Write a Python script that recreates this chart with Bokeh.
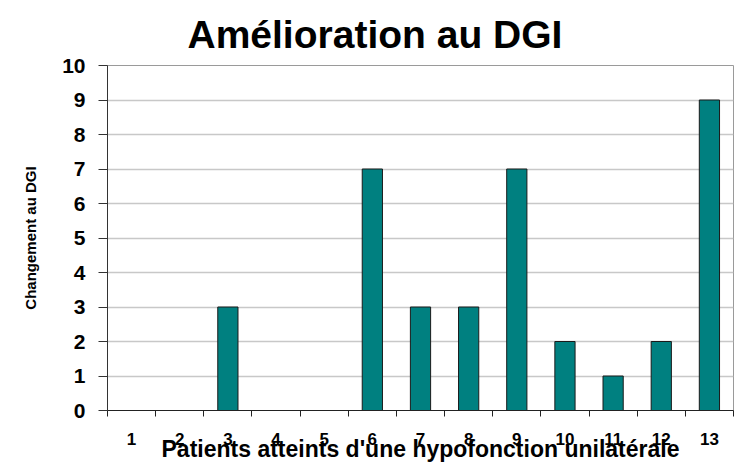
from bokeh.plotting import figure
from bokeh.models import FixedTicker, Range1d
from bokeh.embed import file_html
from bokeh.resources import INLINE

# Data
patients = [1, 2, 3, 4, 5, 6, 7, 8, 9, 10, 11, 12, 13]
patient_labels = ["1", "2", "3", "4", "5", "6", "7", "8", "9", "10", "11", "12", "13"]
dgi_change = [0, 0, 3, 0, 0, 7, 3, 3, 7, 2, 1, 2, 9]
y_ticks = [0, 1, 2, 3, 4, 5, 6, 7, 8, 9, 10]

FONT = "Liberation Sans"

p = figure(width=739, height=464, output_backend="svg", toolbar_location=None,
           x_range=Range1d(0.5, 13.5), y_range=Range1d(0, 10),
           title="Amélioration au DGI")

p.min_border_left = 107
p.min_border_right = 6
p.min_border_top = 65
p.min_border_bottom = 52
p.background_fill_color = "white"
p.border_fill_color = "white"
p.outline_line_color = "#9a9a9a"
p.outline_line_width = 1

p.title.text_font = FONT
p.title.text_font_size = "39px"
p.title.text_font_style = "bold"
p.title.text_color = "black"
p.title.align = "left"
p.title.offset = 80
p.title.standoff = 20

p.vbar(x=patients, top=dgi_change, width=0.42, fill_color="#008080",
       line_color="#1a1a1a", line_width=1)

# grid
p.xgrid.grid_line_color = None
p.ygrid.grid_line_color = "#c8c8c8"
p.ygrid.grid_line_width = 1.5
p.ygrid.ticker = FixedTicker(ticks=y_ticks[1:-1])

# y axis
ya = p.yaxis[0]
ya.ticker = FixedTicker(ticks=y_ticks)
ya.axis_line_color = "#333333"
ya.major_tick_out = 9
ya.major_tick_in = 0
ya.major_tick_line_color = "#333333"
ya.minor_tick_line_color = None
ya.major_label_text_font = FONT
ya.major_label_text_font_size = "21px"
ya.major_label_text_font_style = "bold"
ya.major_label_text_color = "black"
ya.major_label_standoff = 13
ya.axis_label = "Changement au DGI"
ya.axis_label_text_font = FONT
ya.axis_label_text_font_size = "15px"
ya.axis_label_text_font_style = "bold"
ya.axis_label_text_color = "black"
ya.axis_label_standoff = 20

# x axis
boundaries = [x - 0.5 for x in patients] + [patients[-1] + 0.5]
xa = p.xaxis[0]
xa.ticker = FixedTicker(ticks=patients, minor_ticks=boundaries)
xa.major_label_overrides = {x: s for x, s in zip(patients, patient_labels)}
xa.axis_line_color = "#222222"
xa.major_tick_out = 0
xa.major_tick_in = 0
xa.minor_tick_out = 6
xa.minor_tick_in = 0
xa.minor_tick_line_color = "#222222"
xa.major_label_text_font = FONT
xa.major_label_text_font_size = "17px"
xa.major_label_text_font_style = "bold"
xa.major_label_text_color = "black"
xa.major_label_standoff = 16
xa.axis_label = "Patients atteints d'une hypofonction unilatérale"
xa.axis_label_text_font = FONT
xa.axis_label_text_font_size = "23px"
xa.axis_label_text_font_style = "bold"
xa.axis_label_text_color = "black"
xa.axis_label_standoff = -12

open("out.html", "w").write(file_html(p, INLINE))
